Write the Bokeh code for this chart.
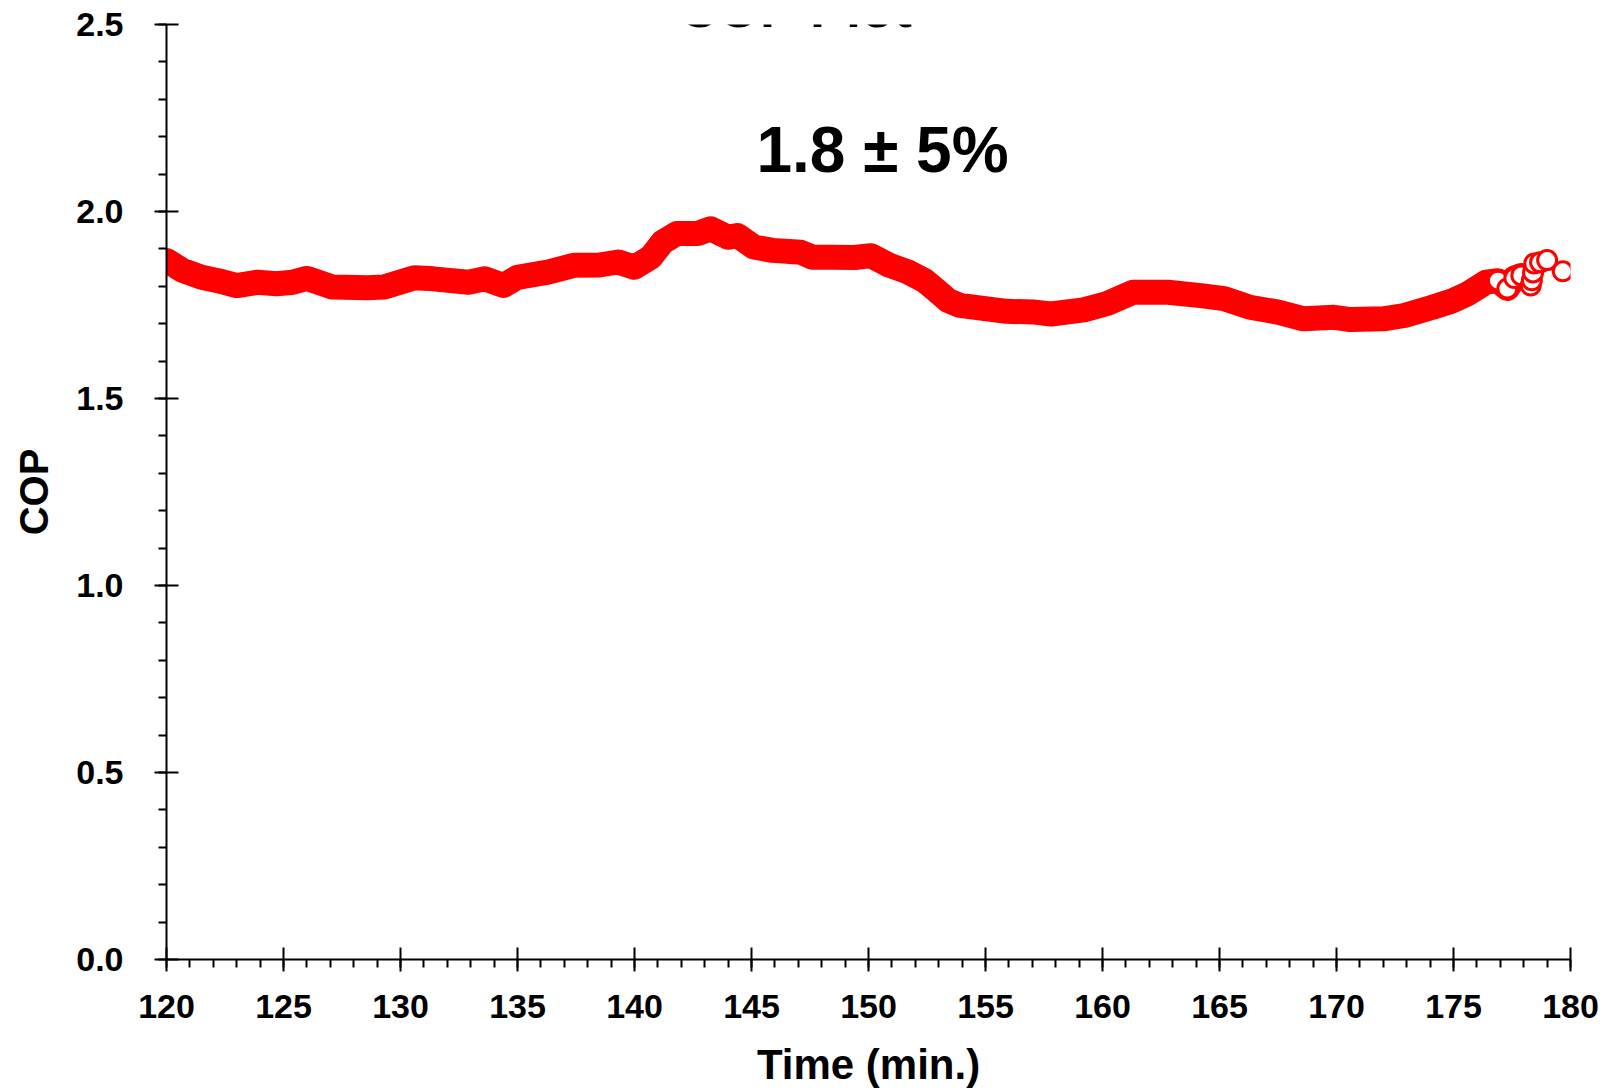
from bokeh.plotting import figure
from bokeh.models import Range1d, FixedTicker, Label
from bokeh.embed import file_html
from bokeh.resources import INLINE

# ---- data ----
time_min = [120.0, 120.7, 121.5, 122.2, 123.0, 123.9, 124.7, 125.4, 126.0, 127.1,
            128.6, 129.3, 130.6, 131.4, 132.9, 133.6, 134.4, 135.0, 136.3, 137.4,
            138.5, 139.3, 140.0, 140.7, 141.2, 141.8, 142.7, 143.25, 144.0, 144.4,
            145.1, 145.9, 147.1, 147.6, 148.5, 149.4, 150.1, 150.9, 151.7, 152.4,
            152.9, 153.4, 153.9, 154.9, 155.9, 157.1, 157.8, 159.2, 160.2, 161.3,
            162.8, 164.2, 165.2, 166.3, 167.5, 168.6, 169.9, 170.6, 172.0, 172.9,
            174.1, 174.9, 175.6, 176.4, 176.9, 177.3, 177.6, 177.9]
cop = [1.869, 1.842, 1.824, 1.815, 1.802, 1.811, 1.807, 1.811, 1.821, 1.798,
       1.796, 1.798, 1.823, 1.820, 1.811, 1.820, 1.802, 1.824, 1.838, 1.856,
       1.857, 1.865, 1.851, 1.878, 1.918, 1.941, 1.941, 1.954, 1.931, 1.936,
       1.905, 1.896, 1.891, 1.878, 1.878, 1.877, 1.882, 1.856, 1.838, 1.815,
       1.789, 1.762, 1.749, 1.741, 1.733, 1.731, 1.726, 1.737, 1.754, 1.784,
       1.784, 1.775, 1.767, 1.744, 1.731, 1.713, 1.717, 1.711, 1.713, 1.722,
       1.744, 1.760, 1.780, 1.811, 1.815, 1.794, 1.822, 1.829]
tail_time = [176.9, 177.3, 177.6, 177.9, 178.3, 178.35, 178.4, 178.45, 178.7, 179.0, 179.67]
tail_cop = [1.815, 1.794, 1.822, 1.829, 1.802, 1.816, 1.837, 1.861, 1.864, 1.870, 1.840]

x_ticks = [120, 125, 130, 135, 140, 145, 150, 155, 160, 165, 170, 175, 180]
x_tick_labels = ["120", "125", "130", "135", "140", "145", "150", "155", "160", "165", "170", "175", "180"]
y_ticks = [0.0, 0.5, 1.0, 1.5, 2.0, 2.5]
y_tick_labels = ["0.0", "0.5", "1.0", "1.5", "2.0", "2.5"]
x_minor = [120 + i for i in range(61)]
y_minor = [round(0.1 * i, 1) for i in range(26)]

title_text = "COP Plot"
note_text = "1.8 \u00b1 5%"
x_label = "Time (min.)"
y_label = "COP"

FONT = "Liberation Sans"
RED = "#ff0000"

p = figure(width=1600, height=1090, output_backend="svg", toolbar_location=None,
           x_range=Range1d(120, 180), y_range=Range1d(0, 2.5),
           min_border_left=166, min_border_right=30, min_border_top=24, min_border_bottom=131)
p.outline_line_color = None
p.grid.visible = False
p.background_fill_color = "white"
p.border_fill_color = "white"

p.line(time_min, cop, line_width=25, line_color=RED, line_join="round", line_cap="round")
p.scatter(tail_time, tail_cop, size=19, marker="circle", fill_color="white",
          line_color=RED, line_width=3)

for ax, ticks, minor, labels in ((p.xaxis[0], x_ticks, x_minor, x_tick_labels),
                                 (p.yaxis[0], y_ticks, y_minor, y_tick_labels)):
    ax.ticker = FixedTicker(ticks=ticks, minor_ticks=minor)
    ax.major_label_overrides = {t: l for t, l in zip(ticks, labels)}
    ax.axis_line_width = 2
    ax.axis_line_color = "black"
    ax.major_tick_line_width = 2
    ax.minor_tick_line_width = 2
    ax.major_tick_line_color = "black"
    ax.minor_tick_line_color = "black"
    ax.major_tick_in = 12
    ax.major_tick_out = 12
    ax.minor_tick_in = 0
    ax.minor_tick_out = 8
    ax.major_label_text_font = FONT
    ax.major_label_text_font_style = "bold"
    ax.major_label_text_font_size = "34px"
    ax.major_label_text_color = "black"
    ax.axis_label_text_font = FONT
    ax.axis_label_text_font_style = "bold"
    ax.axis_label_text_color = "black"

p.xaxis.axis_label = x_label
p.xaxis.axis_label_text_font_size = "42px"
p.xaxis.major_label_standoff = 23
p.xaxis.axis_label_standoff = 20
p.yaxis.axis_label = y_label
p.yaxis.axis_label_text_font_size = "40px"
p.yaxis.major_label_standoff = 31
p.yaxis.axis_label_standoff = 17

p.add_layout(Label(x=150.6, y=2.165, text=note_text, text_font=FONT, text_font_style="bold",
                   text_font_size="64px", text_align="center", text_baseline="alphabetic",
                   text_color="black"))
p.add_layout(Label(x=146.9, y=2.545, text=title_text, text_font=FONT,
                   text_font_style="bold", text_font_size="54px", text_align="center",
                   text_baseline="alphabetic", text_color="black"))

open("out.html", "w").write(file_html(p, INLINE))
